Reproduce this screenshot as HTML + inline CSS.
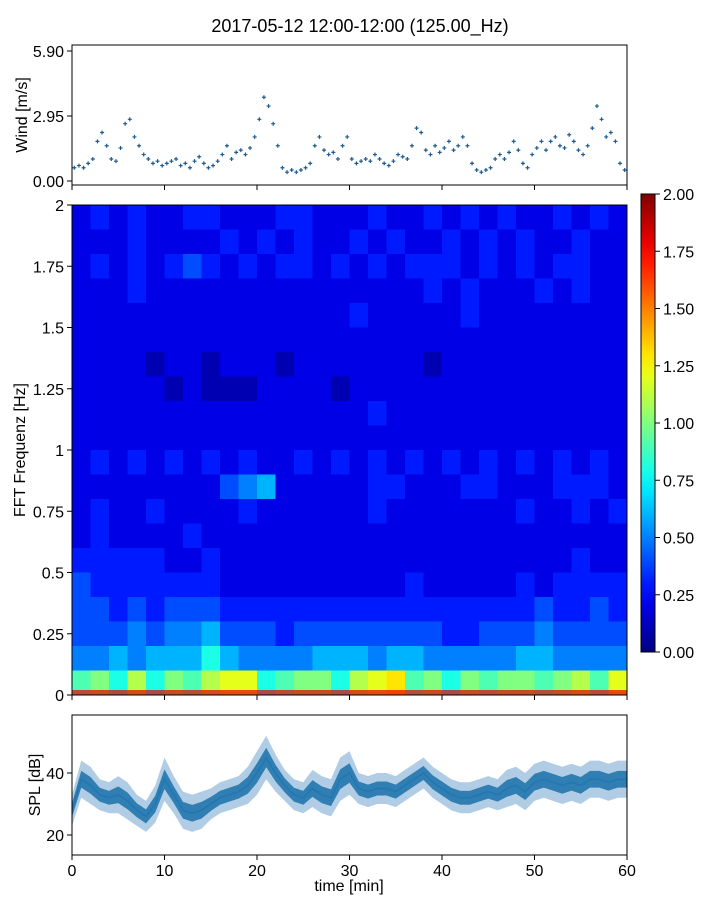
<!DOCTYPE html>
<html><head><meta charset="utf-8"><style>
body{margin:0;background:#fff;}
svg text{font-family:"Liberation Sans",sans-serif;fill:#000;}
</style></head><body>
<svg id="fig" width="720" height="900" xmlns="http://www.w3.org/2000/svg">
<rect width="720" height="900" fill="#fff"/>
<text x="360" y="32" font-size="18" text-anchor="middle">2017-05-12 12:00-12:00 (125.00_Hz)</text>
<g id="wind"></g>
<g id="spec"></g>
<g id="cbar"></g>
<g id="spl"></g>
</svg>
<script>
const windValues=[0.6,0.7,0.6,0.8,1.0,1.8,2.2,1.6,1.0,0.9,1.5,2.6,2.8,2.0,1.6,1.2,1.0,0.8,0.9,0.7,0.8,0.9,1.0,0.7,0.8,0.6,0.9,1.1,0.8,0.6,0.7,0.9,1.2,1.6,1.0,1.3,1.4,1.2,1.5,2.0,2.8,3.8,3.4,2.6,1.6,0.6,0.4,0.5,0.4,0.5,0.6,0.8,1.6,2.0,1.4,1.2,1.3,1.0,1.6,2.0,1.0,0.8,0.9,1.0,0.9,1.2,1.0,0.8,0.7,0.9,1.2,1.1,1.0,1.6,2.4,2.2,1.4,1.2,1.6,1.3,1.5,1.8,1.4,1.6,2.0,1.6,0.8,0.5,0.4,0.5,0.6,1.0,1.2,1.0,1.3,1.8,1.4,0.8,0.6,1.2,1.5,1.8,1.4,1.8,2.0,1.6,1.5,2.1,1.8,1.4,1.2,1.6,2.4,3.4,2.8,2.0,2.2,1.8,0.8,0.5];
const windTicks=[0,2.95,5.9];
const windTickLabels=["0.00","2.95","5.90"];
const splMean=[28,38,36,33,32,33,31,28,26,30,38,33,28,27,28,30,32,33,34,36,40,45,40,36,33,32,35,33,32,38,40,35,34,35,35,34,36,38,40,37,35,33,32,32,33,34,33,35,36,34,37,38,37,36,37,36,38,38,37,38,38];
const splSpread=[5,6,6,5,5,6,6,5,5,6,7,6,6,6,6,5,5,5,5,6,7,7,6,5,5,5,6,6,6,7,7,5,5,5,5,5,5,5,5,5,5,5,5,5,5,5,5,6,6,6,6,6,6,6,6,6,6,6,6,6,6];
const splTicks=[20,40];
const timeTicks=[0,10,20,30,40,50,60];
const freqTicks=[0,0.25,0.5,0.75,1,1.25,1.5,1.75,2];
const freqTickLabels=["0","0.25","0.5","0.75","1","1.25","1.5","1.75","2"];
const cbarTicks=[0,0.25,0.5,0.75,1,1.25,1.5,1.75,2];
// spectrogram grid: rows top (1.9-2.0 Hz) to bottom (0-0.1 Hz); chars 0-9 = tenths, A-J = 1.0-1.9
const specRows=[
"232322332223322232232323223232",
"222322223232322323223232322322",
"232323432323323232333232323322",
"222322222222222222232322232322",
"222222222222222322222322222222",
"222222222222222222222222222222",
"222212212221222222212222222222",
"222221211122221222222222222222",
"222222222222222232222222222222",
"222222222222222222222222222222",
"232323232322323232323232323232",
"222222224562222233222332223332",
"232232222322222232222222322323",
"232222322222222222222222222222",
"333332232222222222222222222322",
"433333332222222222322222323333",
"443434443333333333333333343343",
"444545564443444444443344454444",
"556566686555566656655555665555",
"9A8B8A9BCC89AA8BCD9A8A9AA9AB9C"];
const NS="http://www.w3.org/2000/svg";
function mk(p,t,a){const e=document.createElementNS(NS,t);for(const k in a)e.setAttribute(k,a[k]);p.appendChild(e);return e;}
const X0=72,X1=627;
const xs=t=>X0+(t/60)*(X1-X0);
function jet(v){const t=Math.max(0,Math.min(1,v/2));const c=x=>Math.round(255*Math.max(0,Math.min(1,1.5-Math.abs(4*t-x))));return `rgb(${c(3)},${c(2)},${c(1)})`;}
function xticks(g,yb,labels){timeTicks.forEach(t=>{mk(g,'line',{x1:xs(t),x2:xs(t),y1:yb,y2:yb+5,stroke:'#000'});if(labels){const tx=mk(g,'text',{x:xs(t),y:yb+21,'font-size':16,'text-anchor':'middle'});tx.textContent=t;}});}
// wind
(function(){const g=document.getElementById('wind');const T=45,B=185;const ys=v=>181-(v)*(130/5.9);
windValues.forEach((v,i)=>{const x=xs(i*0.5+0.25),y=ys(v);const p=mk(g,'path',{d:`M${x-2} ${y}h4M${x} ${y-2}v4`,stroke:'#1f5a8f','stroke-width':1.2});});
mk(g,'rect',{x:X0,y:T,width:X1-X0,height:B-T,fill:'none',stroke:'#000'});
windTicks.forEach((v,i)=>{mk(g,'line',{x1:X0-5,x2:X0,y1:ys(v),y2:ys(v),stroke:'#000'});const t=mk(g,'text',{x:X0-8,y:ys(v)+6,'font-size':16,'text-anchor':'end'});t.textContent=windTickLabels[i];});
xticks(g,B,false);
const l=mk(g,'text',{x:27,y:115,'font-size':16,'text-anchor':'middle',transform:'rotate(-90 27 115)'});l.textContent='Wind [m/s]';})();
// spectrogram
(function(){const g=document.getElementById('spec');const T=205,B=695;const ys=f=>B-(f/2)*(B-T);
const nr=specRows.length;const nc=specRows[0].length;
specRows.forEach((row,r)=>{for(let c=0;c<nc;c++){const ch=row[c]||'2';const v=(ch>='A'?10+ch.charCodeAt(0)-65:+ch)/10;const f0=2-(r+1)*(2/nr);
const rc=mk(g,'rect',{x:xs(c*60/nc),y:ys(f0+2/nr),width:(X1-X0)/nc+0.5,height:(B-T)/nr+0.5,fill:jet(v)});}});
mk(g,'rect',{x:X0,y:B-5,width:X1-X0,height:5,fill:jet(1.8),opacity:0.7});
mk(g,'rect',{x:X0,y:T,width:X1-X0,height:B-T,fill:'none',stroke:'#000'});
freqTicks.forEach((f,i)=>{mk(g,'line',{x1:X0-5,x2:X0,y1:ys(f),y2:ys(f),stroke:'#000'});const t=mk(g,'text',{x:X0-8,y:ys(f)+6,'font-size':16,'text-anchor':'end'});t.textContent=freqTickLabels[i];});
xticks(g,B,false);
const l=mk(g,'text',{x:25,y:450,'font-size':16,'text-anchor':'middle',transform:'rotate(-90 25 450)'});l.textContent='FFT Frequenz [Hz]';})();
// colorbar
(function(){const g=document.getElementById('cbar');const T=194,B=652,L=641,W=14;
const defs=mk(g,'defs',{});const lg=mk(defs,'linearGradient',{id:'jetg',x1:0,y1:1,x2:0,y2:0});
for(let i=0;i<=20;i++)mk(lg,'stop',{offset:i/20,'stop-color':jet(i/10)});
mk(g,'rect',{x:L,y:T,width:W,height:B-T,fill:'url(#jetg)',stroke:'#000'});
cbarTicks.forEach(v=>{const y=B-(v/2)*(B-T);mk(g,'line',{x1:L+W,x2:L+W+5,y1:y,y2:y,stroke:'#000'});const t=mk(g,'text',{x:L+W+8,y:y+6,'font-size':16});t.textContent=v.toFixed(2);});})();
// SPL
(function(){const g=document.getElementById('spl');const T=715,B=855;const ys=v=>773-(v-40)*3.1;
let up='',dn='',mid='';splMean.forEach((m,i)=>{const x=xs(i);up+=(i?'L':'M')+x+' '+ys(m+splSpread[i]);mid+=(i?'L':'M')+x+' '+ys(m);});
for(let i=splMean.length-1;i>=0;i--)dn+='L'+xs(i)+' '+ys(splMean[i]-splSpread[i]);
const band=mk(g,'path',{d:up+dn+'Z',fill:'#8fb8da',opacity:0.7});
let up2='',dn2='';splMean.forEach((m,i)=>{up2+=(i?'L':'M')+xs(i)+' '+ys(m+splSpread[i]*0.45);});
for(let i=splMean.length-1;i>=0;i--)dn2+='L'+xs(i)+' '+ys(splMean[i]-splSpread[i]*0.45);
const core=mk(g,'path',{d:up2+dn2+'Z',fill:'#2a79b0',opacity:0.95});
const ln=mk(g,'path',{d:mid,fill:'none',stroke:'#1f77b4','stroke-width':1.5});
mk(g,'rect',{x:X0,y:T,width:X1-X0,height:B-T,fill:'none',stroke:'#000'});
splTicks.forEach(v=>{mk(g,'line',{x1:X0-5,x2:X0,y1:ys(v),y2:ys(v),stroke:'#000'});const t=mk(g,'text',{x:X0-8,y:ys(v)+6,'font-size':16,'text-anchor':'end'});t.textContent=v;});
xticks(g,B,true);
const xl=mk(g,'text',{x:349,y:891,'font-size':16,'text-anchor':'middle'});xl.textContent='time [min]';
const l=mk(g,'text',{x:40,y:785,'font-size':16,'text-anchor':'middle',transform:'rotate(-90 40 785)'});l.textContent='SPL [dB]';})();
</script>
</body></html>
